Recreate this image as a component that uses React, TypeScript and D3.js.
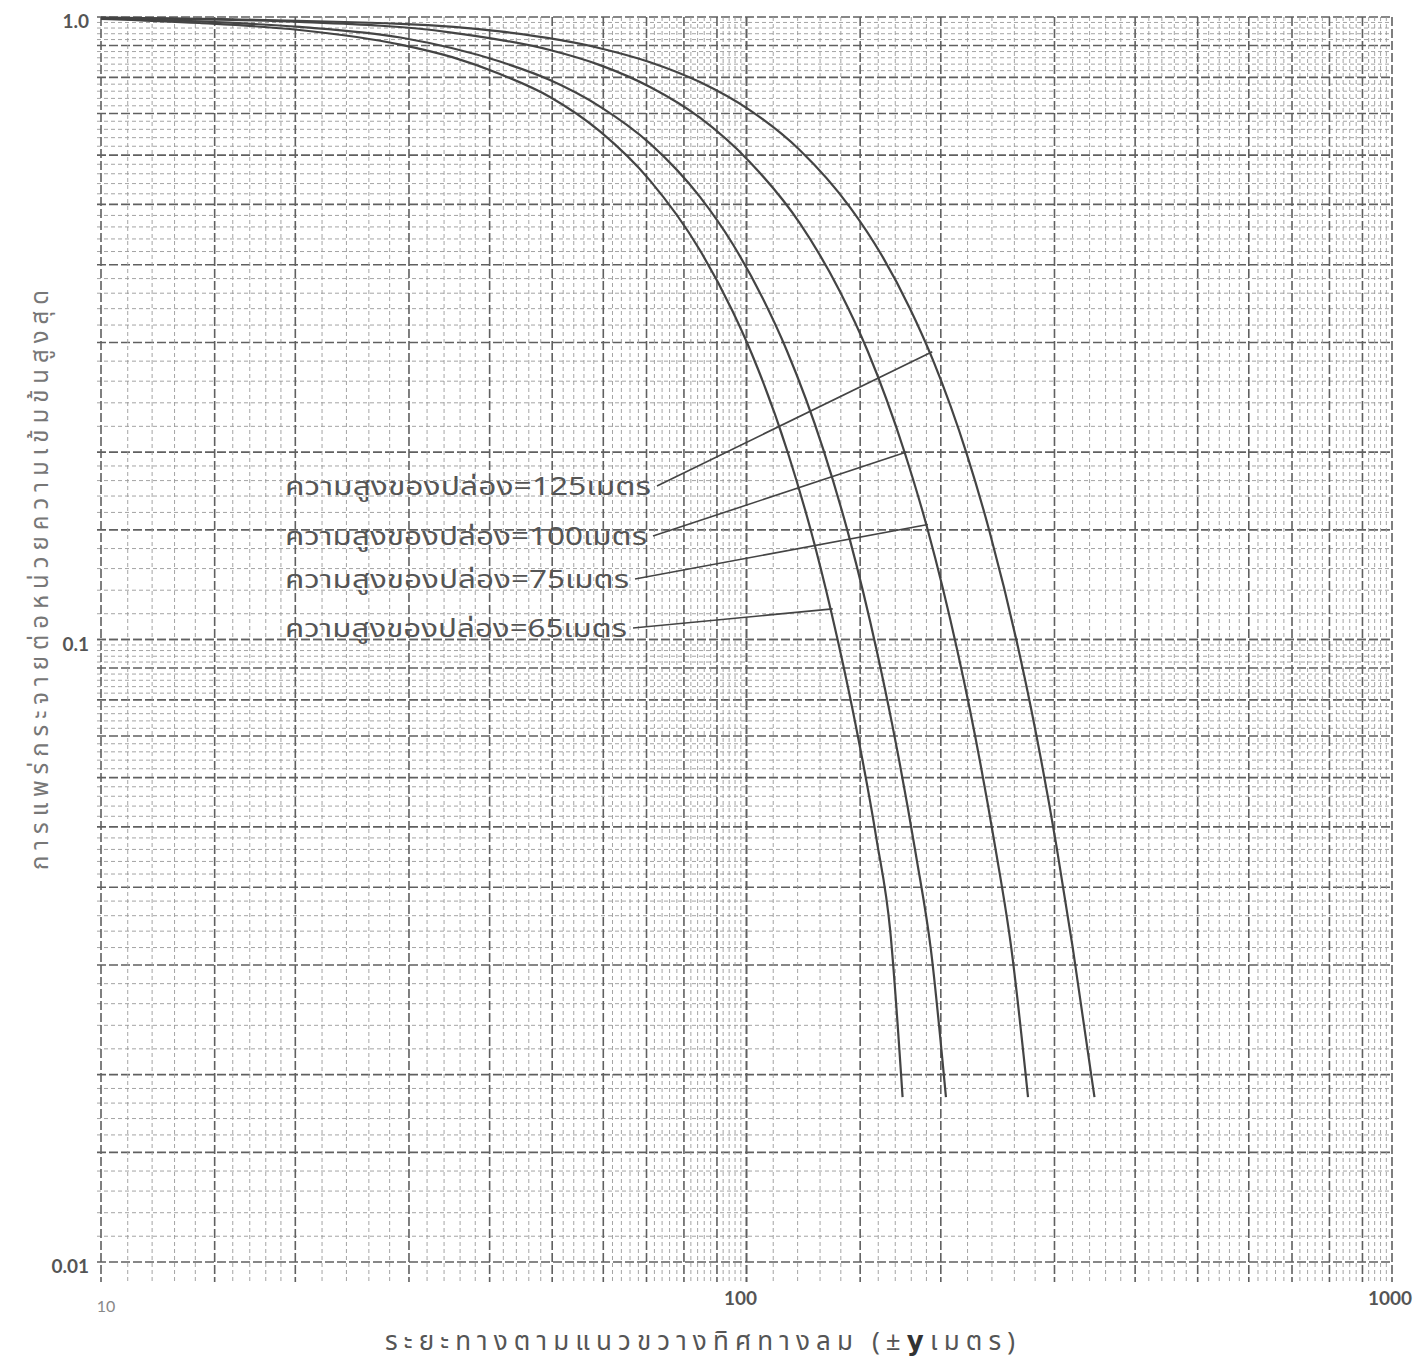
import * as d3 from "d3";
import React from "react";

// stack heights (m) and read-off curves: distance (m) vs relative concentration
const stacks = ["65", "75", "100", "125"];

const dist65 = [10, 14.2, 20.3, 29.1, 35, 41.5, 49.6, 59.3, 70.9, 84.7, 95, 102, 116, 125.5, 135.5, 146.2, 159, 167, 174.5];
const conc65 = [0.993, 0.978, 0.953, 0.903, 0.862, 0.81, 0.744, 0.655, 0.546, 0.422, 0.338, 0.287, 0.199, 0.151, 0.11, 0.0766, 0.0478, 0.034, 0.0184];

const dist75 = [10, 14.2, 20.3, 29.1, 41.5, 49.6, 59.3, 70.9, 84.7, 95.3, 106, 115.5, 131.5, 144, 159.3, 168, 183, 193, 203.7];
const conc75 = [0.995, 0.984, 0.964, 0.927, 0.848, 0.792, 0.718, 0.626, 0.514, 0.431, 0.353, 0.291, 0.202, 0.147, 0.0955, 0.0734, 0.0451, 0.0318, 0.0184];

const dist100 = [10, 20.3, 34.7, 49.6, 59.3, 70.9, 84.7, 101, 121, 139.6, 154, 176, 191, 212, 222, 243, 257, 273];
const conc100 = [0.997, 0.982, 0.945, 0.885, 0.837, 0.772, 0.689, 0.586, 0.466, 0.362, 0.291, 0.199, 0.1497, 0.0963, 0.0769, 0.0462, 0.0321, 0.0184];

const dist125 = [10, 29.1, 41.5, 59.3, 70.9, 84.7, 101.3, 121, 144.6, 162.7, 179.2, 194.5, 219.6, 238, 263, 277, 302, 320, 346];
const conc125 = [0.998, 0.975, 0.948, 0.891, 0.846, 0.786, 0.708, 0.611, 0.495, 0.411, 0.34, 0.281, 0.198, 0.149, 0.0979, 0.076, 0.0467, 0.0321, 0.0184];

const seriesDist = [dist65, dist75, dist100, dist125];
const seriesConc = [conc65, conc75, conc100, conc125];

// leader-line labels, top to bottom, with the point on the curve they point at
const labelTexts = [
  "ความสูงของปล่อง=125เมตร",
  "ความสูงของปล่อง=100เมตร",
  "ความสูงของปล่อง=75เมตร",
  "ความสูงของปล่อง=65เมตร",
];
const anchorDist = [194, 177, 191, 136];
const anchorConc = [0.29, 0.2, 0.153, 0.112];

const xTicks = [10, 100, 1000];
const xTickLabels = ["10", "100", "1000"];
const yTicks = [1, 0.1, 0.01];
const yTickLabels = ["1.0", "0.1", "0.01"];

const xTitle = "ระยะทางตามแนวขวางทิศทางลม (±";
const xTitleY = "y";
const xTitleEnd = "เมตร)";
const yTitle = "การแพร่กระจายต่อหน่วยความเข้มข้นสูงสุด";

const W = 1421;
const H = 1371;
const left = 101, right = 1392, top = 17, bottom = 1262;

const thai = "'Noto Sans Thai', 'Noto Sans', 'DejaVu Sans', sans-serif";

function mantissas() {
  const out: { m: number; major: boolean }[] = [];
  for (let i = 10; i <= 20; i++) out.push({ m: i / 10, major: i % 10 === 0 || i === 15 });
  for (let i = 11; i <= 25; i++) out.push({ m: (i * 2) / 10, major: i % 5 === 0 });
  for (let i = 26; i <= 50; i++) out.push({ m: (i * 2) / 10, major: i % 5 === 0 });
  return out;
}

export default function App() {
  const x = d3.scaleLog().domain([10, 1000]).range([left, right]);
  const y = d3.scaleLog().domain([0.01, 1]).range([bottom, top]);

  const line = d3
    .line<[number, number]>()
    .x((d) => x(d[0]))
    .y((d) => y(d[1]))
    .curve(d3.curveMonotoneX);

  const mm = mantissas();
  const vLines: { v: number; major: boolean }[] = [];
  [10, 100].forEach((dec) => mm.forEach((t) => vLines.push({ v: dec * t.m, major: t.major })));
  const hLines: { v: number; major: boolean }[] = [];
  [0.01, 0.1].forEach((dec) => mm.forEach((t) => hLines.push({ v: dec * t.m, major: t.major })));

  // label layout (pixels)
  const labelX = 285;
  const labelBase = [495, 545, 588, 637];
  const labelLen = [366, 362, 344, 342];

  return (
    <svg
      width={W}
      height={H}
      style={{ position: "absolute", left: 0, top: 0, background: "#fff" }}
    >
      <rect width={W} height={H} fill="#fff" />
      <g>
        {hLines.map((l, i) => (
          <line
            key={"h" + i}
            x1={left - 4}
            x2={right}
            y1={y(l.v)}
            y2={y(l.v)}
            stroke={l.major ? "#606060" : "#9a9a9a"}
            strokeWidth={l.major ? 1.6 : 0.9}
            strokeDasharray={l.major ? "9,3" : "4,3"}
          />
        ))}
        {vLines.map((l, i) => (
          <line
            key={"v" + i}
            x1={x(l.v)}
            x2={x(l.v)}
            y1={top}
            y2={bottom + 20}
            stroke={l.major ? "#606060" : "#9a9a9a"}
            strokeWidth={l.major ? 1.6 : 0.9}
            strokeDasharray={l.major ? "9,3" : "4,3"}
          />
        ))}
      </g>

      {seriesDist.map((ds, si) => (
        <path
          key={"c" + si}
          d={line(ds.map((d, i) => [d, seriesConc[si][i]]) as [number, number][]) || ""}
          fill="none"
          stroke="#444"
          strokeWidth={2.2}
        />
      ))}

      {labelTexts.map((t, i) => (
        <g key={"lab" + i}>
          <text
            x={labelX}
            y={labelBase[i]}
            fontFamily={thai}
            fontSize={25}
            fill="#555"
            textLength={labelLen[i]}
            lengthAdjust="spacingAndGlyphs"
          >
            {t}
          </text>
          <line
            x1={labelX + labelLen[i] + 6}
            y1={labelBase[i] - 9}
            x2={x(anchorDist[i])}
            y2={y(anchorConc[i])}
            stroke="#444"
            strokeWidth={1.6}
          />
        </g>
      ))}

      {yTicks.map((v, i) => (
        <text
          key={"yt" + i}
          x={left - 12}
          y={y(v) + 11}
          textAnchor="end"
          fontFamily="Lato, 'DejaVu Sans', sans-serif"
          fontWeight={700}
          fontSize={19}
          fill="#555"
        >
          {yTickLabels[i]}
        </text>
      ))}
      {xTicks.map((v, i) => (
        <text
          key={"xt" + i}
          x={x(v) + (i === 0 ? 5 : i === 1 ? -6 : -2)}
          y={bottom + (i === 0 ? 50 : 43)}
          textAnchor="middle"
          fontFamily="Lato, 'DejaVu Sans', sans-serif"
          fontWeight={i === 0 ? 400 : 700}
          fontSize={i === 0 ? 16 : 19}
          fill={i === 0 ? "#888" : "#555"}
        >
          {xTickLabels[i]}
        </text>
      ))}

      <text
        x={700}
        y={1350}
        textAnchor="middle"
        fontFamily={thai}
        fontSize={26}
        fill="#555"
        textLength={630}
        lengthAdjust="spacing"
      >
        {xTitle}
        <tspan fontWeight={700} fontFamily="'DejaVu Sans', sans-serif" fill="#333">
          {xTitleY}
        </tspan>
        {xTitleEnd}
      </text>

      <text
        transform={`translate(48, 580) rotate(-90)`}
        textAnchor="middle"
        fontFamily={thai}
        fontSize={24}
        fill="#777"
        textLength={580}
        lengthAdjust="spacing"
      >
        {yTitle}
      </text>
    </svg>
  );
}
